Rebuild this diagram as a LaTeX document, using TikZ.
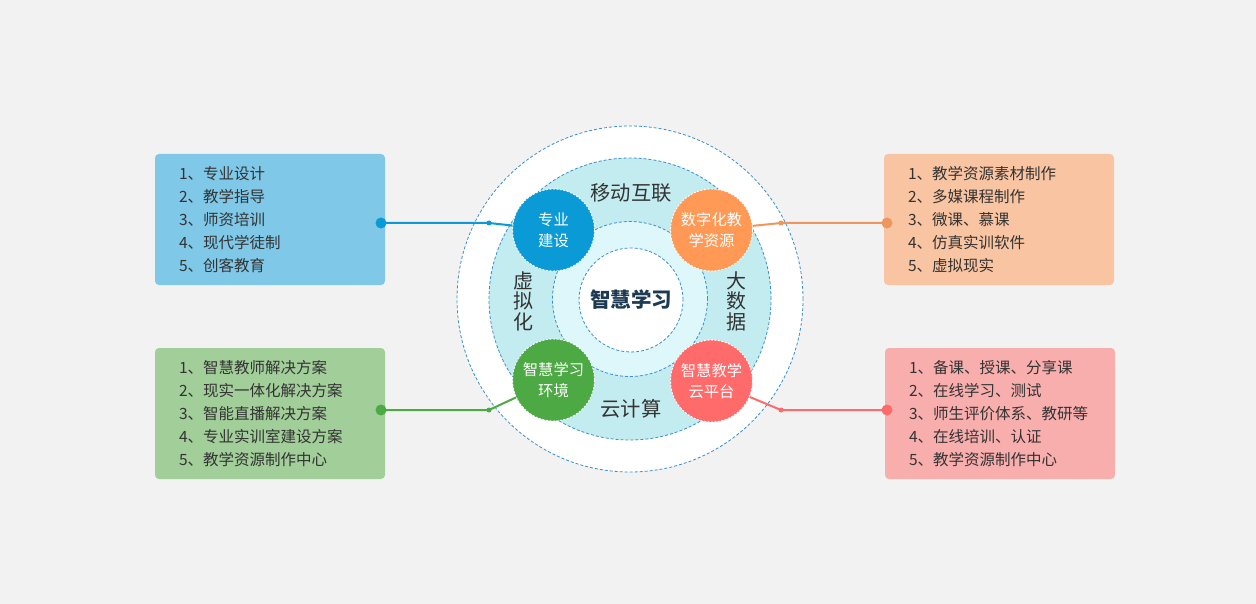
\documentclass[tikz,border=0pt]{standalone}
\usepackage{fontspec}
\setmainfont{Noto Sans CJK SC}
\usetikzlibrary{calc}
\definecolor{bgc}{HTML}{F2F2F2}
\definecolor{ringA}{HTML}{C3ECF0}
\definecolor{ringB}{HTML}{DDF7FA}
\definecolor{dashc}{HTML}{3A8ECC}
\definecolor{cblue}{HTML}{0A9BD7}
\definecolor{corange}{HTML}{FF9955}
\definecolor{cgreen}{HTML}{4DA944}
\definecolor{cred}{HTML}{FF6B6B}
\definecolor{bblue}{HTML}{7FC8E8}
\definecolor{borange}{HTML}{F9C4A1}
\definecolor{bgreen}{HTML}{A1CE99}
\definecolor{bred}{HTML}{F9AEAE}
\definecolor{lorange}{HTML}{EE9660}
\definecolor{txt}{HTML}{333333}
\definecolor{navy}{HTML}{1E3A52}
\tikzset{
  ring/.style={circle, draw=dashc, dashed, dash pattern=on 3pt off 2pt, line width=0.8pt, inner sep=0pt},
  bubble/.style={circle, draw=white, dash pattern=on 2pt off 1.5pt, line width=0.9pt, minimum size=82pt, inner sep=0pt, text=white, align=center, font=\fontsize{15.3}{21}\selectfont},
  listbox/.style={rounded corners=4pt, minimum width=230pt, minimum height=131pt, text width=182pt, inner xsep=24pt, inner ysep=0pt, align=left, text=txt, font=\fontsize{15.5}{23}\selectfont},
  ringlbl/.style={text=txt, font=\fontsize{20.3}{21}\selectfont, inner sep=0pt},
  conn/.style={line width=2pt},
  bigdot/.style={circle, inner sep=0pt, minimum size=11pt},
  smalldot/.style={circle, inner sep=0pt, minimum size=5pt},
}
\begin{document}
\begin{tikzpicture}[x=1pt,y=-1pt]
\fill[bgc] (0,0) rectangle (1256,604);
\useasboundingbox (0,0) rectangle (1256,604);
% rings
\node[ring, fill=white, minimum size=346pt] (r1) at (630,299) {};
\node[ring, fill=ringA, minimum size=282pt] (r2) at (630,299) {};
\node[ring, fill=ringB, minimum size=155pt] (r3) at (630,299) {};
\node[ring, fill=white, minimum size=104pt, text=navy, font=\fontsize{20.5}{22}\selectfont\bfseries] (core) at (631,300) {智慧学习};
% ring labels
\node[ringlbl] (l1) at (631,193) {移动互联};
\node[ringlbl] (l2) at (631,409) {云计算};
\node[ringlbl, align=center, font=\fontsize{20}{20.5}\selectfont] (l3) at (523,301) {虚\\拟\\化};
\node[ringlbl, align=center, font=\fontsize{20}{20.5}\selectfont] (l4) at (736,301) {大\\数\\据};
% bubbles
\node[bubble, fill=cblue] (c1) at (553.5,230) {专业\\建设};
\node[bubble, fill=corange] (c2) at (711.5,230) {数字化教\\学资源};
\node[bubble, fill=cgreen] (c3) at (553.5,380) {智慧学习\\环境};
\node[bubble, fill=cred] (c4) at (711.5,381) {智慧教学\\云平台};
% boxes
\node[listbox, fill=bblue] (b1) at (270,219.5) {1、专业设计\\2、教学指导\\3、师资培训\\4、现代学徒制\\5、创客教育};
\node[listbox, fill=borange] (b2) at (999,219.5) {1、教学资源素材制作\\2、多媒课程制作\\3、微课、慕课\\4、仿真实训软件\\5、虚拟现实};
\node[listbox, fill=bgreen] (b3) at (270,413.5) {1、智慧教师解决方案\\2、现实一体化解决方案\\3、智能直播解决方案\\4、专业实训室建设方案\\5、教学资源制作中心};
\node[listbox, fill=bred] (b4) at (1000,413.5) {1、备课、授课、分享课\\2、在线学习、测试\\3、师生评价体系、教研等\\4、在线培训、认证\\5、教学资源制作中心};
% connector points
\node[bigdot, fill=cblue] (d1) at (381,223) {};
\node[smalldot, fill=cblue] (m1) at (489,223) {};
\node[bigdot, fill=lorange] (d2) at (887,223) {};
\node[smalldot, fill=lorange] (m2) at (781,223) {};
\node[bigdot, fill=cgreen] (d3) at (381,410) {};
\node[smalldot, fill=cgreen] (m3) at (489,410) {};
\node[bigdot, fill=cred] (d4) at (887,410) {};
\node[smalldot, fill=cred] (m4) at (781,410) {};
\draw[conn, cblue] (d1.center) -- (m1.center) -- (c1);
\draw[conn, lorange] (d2.center) -- (m2.center) -- (c2);
\draw[conn, cgreen] (d3.center) -- (m3.center) -- (c3);
\draw[conn, cred] (d4.center) -- (m4.center) -- (c4);
\end{tikzpicture}
\end{document}
